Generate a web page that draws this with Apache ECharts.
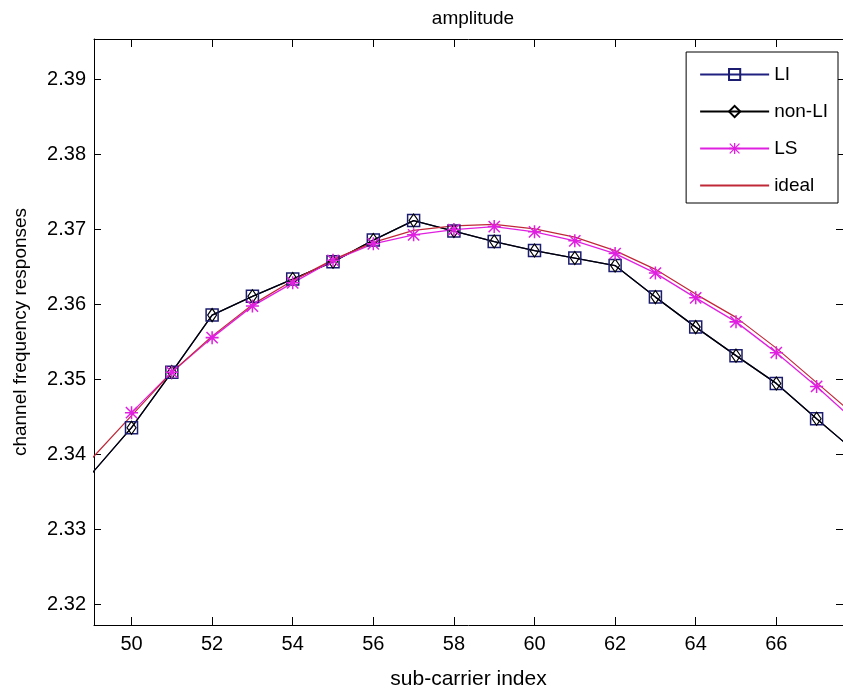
<!DOCTYPE html>
<html>
<head>
<meta charset="utf-8">
<script src="https://cdn.jsdelivr.net/npm/echarts@6/dist/echarts.min.js"></script>
<style>
html,body{margin:0;padding:0;background:#fff;}
#c{width:843px;height:695px;}
</style>
</head>
<body>
<div id="c"></div>
<script>
// sub-carrier indices
const subcarrier = [49,50,51,52,53,54,55,56,57,58,59,60,61,62,63,64,65,66,67,68];
// LI (linear interpolation)
const liValues = [2.3374,2.3436,2.3510,2.3586,2.3611,2.3634,2.3657,2.3686,2.3712,2.3698,2.3684,2.3672,2.3662,2.3652,2.3610,2.3570,2.3532,2.3495,2.3448,2.3402];
// non-LI
const nonLiValues = [2.3374,2.3436,2.3510,2.3586,2.3611,2.3634,2.3657,2.3686,2.3712,2.3698,2.3684,2.3672,2.3662,2.3652,2.3610,2.3570,2.3532,2.3495,2.3448,2.3402];
// LS (from index 50)
const lsIndex = [50,51,52,53,54,55,56,57,58,59,60,61,62,63,64,65,66,67,68];
const lsValues = [2.3456,2.3510,2.3556,2.3598,2.3629,2.3659,2.3681,2.3693,2.3700,2.3704,2.3697,2.3685,2.3668,2.3642,2.3609,2.3577,2.3536,2.3491,2.3442];
// ideal
const idealValues = [2.3394,2.3452,2.3510,2.3558,2.3600,2.3632,2.3660,2.3683,2.3699,2.3705,2.3707,2.3701,2.3690,2.3672,2.3647,2.3614,2.3583,2.3542,2.3496,2.3450];
// tick labels
const xTicks = [50,52,54,56,58,60,62,64,66];
const yTicks = [2.32,2.33,2.34,2.35,2.36,2.37,2.38,2.39];

const X_MIN = 49.069, X_MAX = 67.655;
const Y_MIN = 2.3173, Y_MAX = 2.3954;

const FONT = 'Liberation Sans, Arial, sans-serif';
const pairs = (xs, ys) => xs.map((x, i) => [x, ys[i]]);
const asterisk = 'path://M5.3,0L6.7,0L6.7,12L5.3,12Z M0,5.3L12,5.3L12,6.7L0,6.7Z M1.3,0.3L11.7,10.7L10.7,11.7L0.3,1.3Z M10.7,0.3L11.7,1.3L1.3,11.7L0.3,10.7Z';

const chart = echarts.init(document.getElementById('c'), null, {renderer: 'canvas'});
const axisLine = {show: true, lineStyle: {color: '#000', width: 1}};
chart.setOption({
  animation: false,
  backgroundColor: '#fff',
  title: {
    text: 'amplitude', left: 468, top: 4, textAlign: 'center',
    textStyle: {fontFamily: FONT, fontSize: 19, fontWeight: 'normal', color: '#000'}
  },
  grid: {left: 94, right: 0, top: 39, bottom: 62, containLabel: false},
  legend: {
    right: 5, top: 52, orient: 'vertical',
    itemWidth: 69, itemHeight: 14, itemGap: 18,
    padding: [13, 10, 8, 13],
    backgroundColor: '#fff', borderColor: '#000', borderWidth: 1,
    textStyle: {fontFamily: FONT, fontSize: 19, color: '#000'},
    data: ['LI', 'non-LI', 'LS',
      {name: 'ideal', itemStyle: {color: 'rgba(0,0,0,0)', borderColor: 'rgba(0,0,0,0)', borderWidth: 0, opacity: 0}}]
  },
  xAxis: [{
    type: 'value', min: X_MIN, max: X_MAX, position: 'bottom',
    axisLine: axisLine, splitLine: {show: false},
    axisTick: {show: true, inside: true, length: 8, customValues: xTicks, lineStyle: {color: '#000'}},
    axisLabel: {customValues: xTicks, fontFamily: FONT, fontSize: 20, color: '#000', margin: 9},
    name: 'sub-carrier index', nameLocation: 'middle', nameGap: 44,
    nameTextStyle: {fontFamily: FONT, fontSize: 21, color: '#000'}
  }, {
    type: 'value', min: X_MIN, max: X_MAX, position: 'top',
    axisLine: axisLine, splitLine: {show: false},
    axisTick: {show: true, inside: true, length: 8, customValues: xTicks, lineStyle: {color: '#000'}},
    axisLabel: {show: false}
  }],
  yAxis: [{
    type: 'value', min: Y_MIN, max: Y_MAX, position: 'left',
    axisLine: axisLine, splitLine: {show: false},
    axisTick: {show: true, inside: true, length: 7, customValues: yTicks, lineStyle: {color: '#000'}},
    axisLabel: {customValues: yTicks, fontFamily: FONT, fontSize: 20, color: '#000', margin: 8,
      formatter: v => v.toFixed(2)},
    name: 'channel frequency responses', nameLocation: 'middle', nameGap: 64, nameRotate: 90,
    nameTextStyle: {fontFamily: FONT, fontSize: 19, color: '#000'}
  }, {
    type: 'value', min: Y_MIN, max: Y_MAX, position: 'right',
    axisLine: axisLine, splitLine: {show: false},
    axisTick: {show: true, inside: true, length: 7, customValues: yTicks, lineStyle: {color: '#000'}},
    axisLabel: {show: false}
  }],
  series: [{
    name: 'LI', type: 'line', data: pairs(subcarrier, liValues),
    clip: true, symbol: 'rect', symbolSize: 12, showAllSymbol: true,
    lineStyle: {color: '#202080', width: 1.3},
    itemStyle: {color: 'rgba(255,255,255,0)', borderColor: '#1c1c70', borderWidth: 1.5}
  }, {
    name: 'non-LI', type: 'line', data: pairs(subcarrier, nonLiValues),
    clip: true, symbol: 'diamond', symbolSize: [9, 13], showAllSymbol: true,
    lineStyle: {color: '#000', width: 1.3},
    itemStyle: {color: 'rgba(255,255,255,0)', borderColor: '#000', borderWidth: 1.2}
  }, {
    name: 'LS', type: 'line', data: pairs(lsIndex, lsValues),
    clip: true, symbol: asterisk, symbolSize: 13, showAllSymbol: true,
    lineStyle: {color: '#e020e0', width: 1.3},
    itemStyle: {color: '#e020e0'}
  }, {
    name: 'ideal', type: 'line', data: pairs(subcarrier, idealValues),
    clip: true, symbol: 'none',
    lineStyle: {color: '#c02838', width: 1.2},
    itemStyle: {color: '#c02838'}
  }]
});
</script>
</body>
</html>
